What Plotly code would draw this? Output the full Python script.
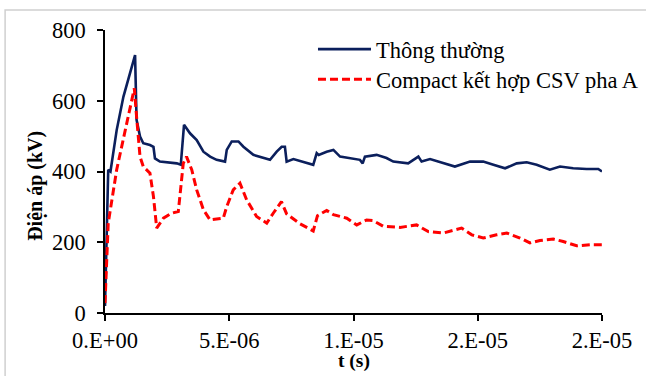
import plotly.graph_objects as go

# Time axis in seconds, voltage in kV
t_normal = [0.00e-6, 0.13e-6, 0.22e-6, 0.47e-6, 0.74e-6, 1.21e-6, 1.27e-6, 1.41e-6, 1.54e-6,
            1.81e-6, 1.95e-6, 2.01e-6, 2.21e-6, 2.89e-6, 3.05e-6, 3.18e-6, 3.42e-6, 3.69e-6,
            3.96e-6, 4.23e-6, 4.49e-6, 4.83e-6, 4.90e-6, 5.10e-6, 5.37e-6, 5.57e-6, 5.97e-6,
            6.37e-6, 6.64e-6, 6.91e-6, 7.11e-6, 7.24e-6, 7.31e-6, 7.58e-6, 7.85e-6, 8.38e-6,
            8.52e-6, 8.60e-6, 8.92e-6, 9.19e-6, 9.46e-6, 9.86e-6, 10.26e-6, 10.37e-6, 10.46e-6,
            10.93e-6, 11.33e-6, 11.60e-6, 12.20e-6, 12.61e-6, 12.74e-6, 13.08e-6, 13.61e-6,
            14.08e-6, 14.69e-6, 15.22e-6, 15.63e-6, 16.10e-6, 16.57e-6, 16.97e-6, 17.37e-6,
            17.90e-6, 18.31e-6, 18.84e-6, 19.38e-6, 19.85e-6, 20.00e-6]
v_normal = [20, 405, 400, 517, 611, 729, 546, 499, 480,
            475, 470, 437, 428, 423, 419, 532, 508, 489,
            456, 442, 433, 428, 461, 485, 485, 470, 447,
            438, 433, 456, 470, 470, 428, 435, 430, 419,
            452, 447, 456, 461, 442, 438, 433, 423, 442,
            447, 438, 428, 423, 442, 428, 435, 423,
            414, 428, 428, 419, 409, 423, 426, 419,
            405, 414, 409, 407, 407, 400]

t_compact = [0.00e-6, 0.13e-6, 0.47e-6, 0.74e-6, 1.01e-6, 1.18e-6, 1.27e-6, 1.41e-6, 1.54e-6,
             1.81e-6, 1.95e-6, 2.08e-6, 2.35e-6, 2.68e-6, 2.95e-6, 3.15e-6, 3.28e-6, 3.49e-6,
             3.69e-6, 3.96e-6, 4.23e-6, 4.76e-6, 4.90e-6, 5.16e-6, 5.43e-6, 5.70e-6, 6.10e-6,
             6.51e-6, 6.77e-6, 7.10e-6, 7.31e-6, 7.85e-6, 8.38e-6, 8.55e-6, 8.92e-6, 9.19e-6,
             9.73e-6, 10.13e-6, 10.53e-6, 10.80e-6, 11.20e-6, 11.87e-6, 12.54e-6, 13.01e-6,
             13.61e-6, 14.35e-6, 14.76e-6, 15.22e-6, 15.76e-6, 16.17e-6, 16.70e-6, 17.10e-6,
             17.50e-6, 18.04e-6, 18.44e-6, 18.98e-6, 19.52e-6, 19.90e-6, 20.00e-6]
v_compact = [28, 254, 405, 489, 574, 635, 555, 442, 414,
             395, 329, 240, 268, 282, 287, 423, 442, 405,
             348, 292, 263, 268, 301, 348, 367, 320, 273,
             254, 282, 315, 280, 252, 232, 275, 290, 278,
             268, 249, 263, 261, 245, 242, 249, 230,
             226, 240, 221, 212, 221, 226, 212, 198,
             205, 209, 202, 190, 193, 193, 193]

x_tickvals = [0, 5e-6, 1e-5, 1.5e-5, 2e-5]
x_ticktext = ["0.E+00", "5.E-06", "1.E-05", "2.E-05", "2.E-05"]
y_tickvals = [0, 200, 400, 600, 800]

series_names = ["Thông thường", "Compact kết hợp CSV pha A"]

FONT = "Liberation Serif, Times New Roman, serif"

fig = go.Figure()
fig.add_trace(go.Scatter(x=t_normal, y=v_normal, mode="lines", name=series_names[0],
                         legend="legend",
                         line=dict(color="#0b1f5c", width=2.6)))
fig.add_trace(go.Scatter(x=t_compact, y=v_compact, mode="lines", name=series_names[1],
                         legend="legend2",
                         line=dict(color="#ff0000", width=3, dash="8px,4px")))

axis_common = dict(showgrid=False, zeroline=False, showline=True, linecolor="black",
                   linewidth=1.5, ticks="outside", ticklen=6, tickwidth=1.5,
                   tickcolor="black", tickfont=dict(family=FONT, size=22.5, color="black"))

fig.update_xaxes(range=[0, 2e-5], tickmode="array", tickvals=x_tickvals,
                 ticktext=x_ticktext, ticklabelstandoff=0, **axis_common)
fig.update_yaxes(range=[0, 800], tickmode="array", tickvals=y_tickvals,
                 ticklabelstandoff=7, **axis_common)

# Light frame around the chart
fig.add_shape(type="rect", xref="paper", yref="paper",
              x0=-0.201, x1=1.2, y0=-0.4, y1=1.0706,
              line=dict(color="#d0d0d0", width=1.5), layer="above")

# Axis titles
fig.add_annotation(text="<b>Điện áp (kV)</b>", xref="paper", yref="paper",
                   x=-0.139, y=0.449, xanchor="center", yanchor="middle",
                   textangle=-90, showarrow=False,
                   font=dict(family=FONT, size=20, color="black"))
fig.add_annotation(text="<b>t (s)</b>", xref="paper", yref="paper",
                   x=0.5, y=-0.168, xanchor="center", yanchor="middle",
                   showarrow=False,
                   font=dict(family=FONT, size=19.5, color="black"))

legend_style = dict(xref="container", yref="container", xanchor="left", yanchor="top",
                    bgcolor="rgba(0,0,0,0)", itemwidth=53,
                    font=dict(family=FONT, size=22.5, color="black"))

fig.update_layout(
    width=646, height=376,
    margin=dict(l=105, r=44, t=30, b=62.7, autoexpand=False),
    paper_bgcolor="white", plot_bgcolor="white",
    showlegend=True,
    legend=dict(x=0.4845, y=0.9255, **legend_style),
    legend2=dict(x=0.4845, y=0.8457, **legend_style),
)

fig.write_html("out.html")
